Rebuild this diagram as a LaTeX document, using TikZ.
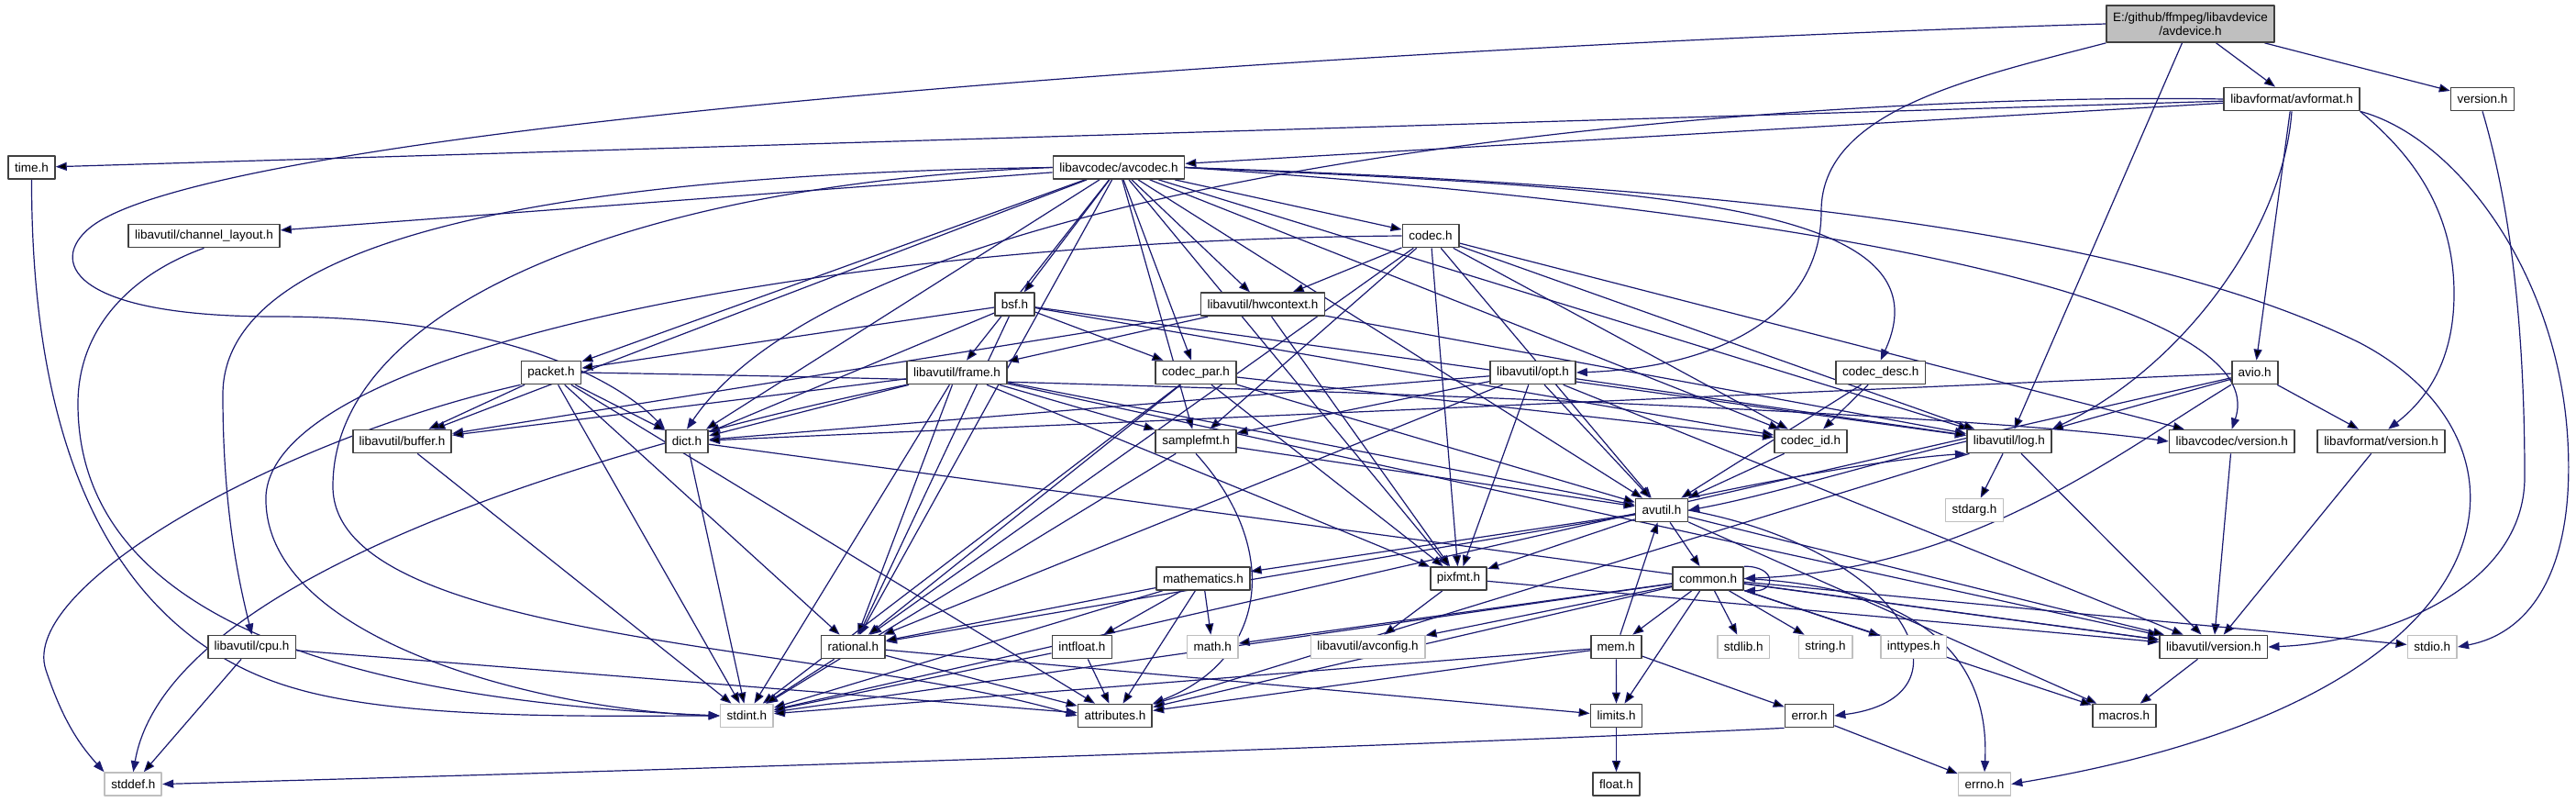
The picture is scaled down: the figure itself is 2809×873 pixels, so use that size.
\documentclass[tikz,border=0pt]{standalone}
\usepackage{fontspec}
\setmainfont{Liberation Sans}
\usetikzlibrary{arrows.meta,backgrounds}
\definecolor{depblue}{RGB}{25,25,112}
\definecolor{hdrframe}{RGB}{64,64,64}
\definecolor{sysframe}{RGB}{191,191,191}
\definecolor{mainfill}{RGB}{191,191,191}
\pgfdeclarelayer{deps}
\pgfsetlayers{background,deps,main}
\tikzset{
  every picture/.style={line join=round, >={Triangle[length=12pt,width=9pt]}},
  hdr/.style={draw=hdrframe, fill=white, line width=1.7pt, inner xsep=7pt, inner ysep=0pt,
    minimum height=25pt, font=\fontsize{13.5}{15}\selectfont},
  syshdr/.style={hdr, draw=sysframe},
  mainhdr/.style={hdr, fill=mainfill, align=center, minimum height=40pt},
  dep/.style={->, draw=depblue, line width=1.2pt},
}

\begin{document}
\begin{tikzpicture}[x=1pt,y=1pt]
\begin{pgfonlayer}{background}
\fill[white] (0,0) rectangle (2809,-873);
\end{pgfonlayer}
\useasboundingbox (0,0) rectangle (2809,-873);
% headers, row by row
\node[mainhdr] (avdevice) at (2388.5,-26) {E:/github/ffmpeg/libavdevice\\/avdevice.h};
\node[hdr] (avformat) at (2499,-108) {libavformat/avformat.h};
\node[hdr] (version) at (2707,-108) {version.h};
\node[hdr] (time) at (34.5,-182.5) {time.h};
\node[hdr] (avcodec) at (1220,-182.5) {libavcodec/avcodec.h};
\node[hdr] (chlayout) at (222.5,-257) {libavutil/channel\_layout.h};
\node[hdr] (codec) at (1560,-257) {codec.h};
\node[hdr] (bsf) at (1106.6,-331.7) {bsf.h};
\node[hdr] (hwctx) at (1377,-331.7) {libavutil/hwcontext.h};
\node[hdr] (packet) at (601,-406) {packet.h};
\node[hdr] (frame) at (1043.5,-406) {libavutil/frame.h};
\node[hdr] (codecpar) at (1304,-406) {codec\_par.h};
\node[hdr] (opt) at (1671.6,-406) {libavutil/opt.h};
\node[hdr] (codecdesc) at (2050.7,-406) {codec\_desc.h};
\node[hdr] (avio) at (2458.7,-406) {avio.h};
\node[hdr] (buffer) at (438.5,-481) {libavutil/buffer.h};
\node[hdr] (dict) at (749,-481) {dict.h};
\node[hdr] (samplefmt) at (1304,-481) {samplefmt.h};
\node[hdr] (codecid) at (1974.5,-481) {codec\_id.h};
\node[hdr] (log) at (2190.8,-481) {libavutil/log.h};
\node[hdr] (avcver) at (2433.7,-481) {libavcodec/version.h};
\node[hdr] (avfver) at (2596.5,-481) {libavformat/version.h};
\node[hdr] (avutil) at (1812,-556) {avutil.h};
\node[syshdr] (stdarg) at (2153,-556) {stdarg.h};
\node[hdr] (pixfmt) at (1590.6,-630.5) {pixfmt.h};
\node[hdr] (common) at (1862.6,-630.5) {common.h};
\node[hdr] (mathematics) at (1311.9,-630.5) {mathematics.h};
\node[hdr] (cpu) at (274.6,-705) {libavutil/cpu.h};
\node[hdr] (rational) at (930.3,-705) {rational.h};
\node[hdr] (intfloat) at (1179.9,-705) {intfloat.h};
\node[syshdr] (math) at (1322.2,-705) {math.h};
\node[syshdr] (avconfig) at (1491.6,-705) {libavutil/avconfig.h};
\node[hdr] (mem) at (1762.3,-705) {mem.h};
\node[syshdr] (stdlib) at (1901.2,-705) {stdlib.h};
\node[syshdr] (string) at (1990.5,-705) {string.h};
\node[syshdr] (inttypes) at (2086.7,-705) {inttypes.h};
\node[hdr] (avuver) at (2413.8,-705) {libavutil/version.h};
\node[syshdr] (stdio) at (2652.3,-705) {stdio.h};
\node[syshdr] (stdint) at (814.3,-780) {stdint.h};
\node[hdr] (attributes) at (1215.9,-780) {attributes.h};
\node[hdr] (limits) at (1762.5,-780) {limits.h};
\node[hdr] (error) at (1973,-780) {error.h};
\node[hdr] (macros) at (2316.4,-780) {macros.h};
\node[syshdr] (stddef) at (145.3,-854.5) {stddef.h};
\node[hdr] (float) at (1762.5,-854.5) {float.h};
\node[syshdr] (errno) at (2164,-854.5) {errno.h};

\begin{pgfonlayer}{deps}
% avdevice.h
\path[dep] (avdevice) edge (avformat) edge (version) edge (log);
\draw[dep] (avdevice.south west) .. controls (2150,-85) and (1986,-120) .. (1986,-230)
  .. controls (1986,-340) and (1880,-400) .. (opt.east);
\draw[dep] (avdevice.west) .. controls (1500,-50) and (300,-130) .. (110,-240)
  .. controls (50,-275) and (60,-345) .. (300,-345)
  .. controls (560,-345) and (680,-420) .. (dict.north west);
% avformat.h
\path[dep] (avformat) edge (time) edge (avcodec) edge (avio);
\draw[dep] (avformat.west) .. controls (2000,-100) and (950,-170) .. (dict.north);
\draw[dep] (avformat.south) .. controls (2490,-250) and (2380,-400) .. (log.north east);
\draw[dep] (avformat.south east) .. controls (2620,-160) and (2676,-220) .. (2676,-320)
  .. controls (2676,-400) and (2640,-440) .. (avfver.60);
\draw[dep] (avformat.south east) .. controls (2680,-150) and (2790,-300) .. (2800,-480)
  .. controls (2808,-620) and (2760,-690) .. (stdio.east);
\draw[dep] (version.south) .. controls (2745,-250) and (2753,-400) .. (2753,-520)
  .. controls (2753,-640) and (2600,-700) .. (avuver.east);
% left column
\draw[dep] (time.south) .. controls (34,-600) and (200,-715) .. (321,-750)
  .. controls (440,-785) and (650,-780) .. (stdint.west);
\draw[dep] (chlayout.south) .. controls (140,-300) and (85,-360) .. (85,-440)
  .. controls (85,-640) and (300,-760) .. (stdint.west);
\path[dep] (cpu) edge (stddef) edge (attributes);
% avcodec.h
\path[dep] (avcodec) edge (chlayout) edge (packet) edge (buffer) edge (dict) edge (frame)
  edge (rational) edge (bsf) edge (samplefmt) edge (codecpar) edge (pixfmt) edge (hwctx)
  edge (codec) edge (avutil) edge (codecid) edge (log);
\draw[dep] (avcodec.west) .. controls (700,-200) and (363,-330) .. (363,-530)
  .. controls (363,-700) and (900,-700) .. (attributes.west);
\draw[dep] (avcodec.west) .. controls (600,-190) and (243,-260) .. (243,-430)
  .. controls (243,-560) and (262,-640) .. (cpu.north);
\draw[dep] (avcodec.east) .. controls (1800,-205) and (2130,-220) .. (codecdesc.north);
\draw[dep] (avcodec.east) .. controls (2000,-230) and (2480,-330) .. (avcver.north);
\draw[dep] (avcodec.east) .. controls (1800,-200) and (2300,-240) .. (2572,-373)
  .. controls (2780,-480) and (2760,-760) .. (errno.east);
% codec.h
\path[dep] (codec) edge (hwctx) edge (codecid) edge (log) edge (avutil) edge (pixfmt)
  edge (rational) edge (samplefmt) edge (avcver);
\draw[dep] (codec.west) .. controls (900,-262) and (300,-380) .. (290,-540)
  .. controls (285,-700) and (600,-775) .. (stdint.west);
% bsf.h, hwcontext.h, packet.h
\path[dep] (bsf) edge (packet) edge (dict) edge (rational) edge (codecpar) edge (codecid) edge (log);
\path[dep] (hwctx) edge (buffer) edge (frame) edge (pixfmt) edge (log);
\path[dep] (packet) edge (stdint) edge (attributes) edge (buffer) edge (dict) edge (rational);
\draw[dep] (packet.east) .. controls (1200,-415) and (2100,-445) .. (avcver.west);
\draw[dep] (packet.south west) .. controls (300,-480) and (20,-640) .. (50,-730)
  .. controls (70,-790) and (90,-815) .. (stddef.north west);
% frame.h, codec_par.h, opt.h, codec_desc.h, avio.h
\path[dep] (frame) edge (stdint) edge (avutil) edge (buffer) edge (dict) edge (rational)
  edge (samplefmt) edge (pixfmt) edge (avuver);
\draw[dep] (frame.south west) .. controls (600,-500) and (180,-640) .. (stddef.north);
\path[dep] (codecpar) edge (stdint) edge (avutil) edge (rational) edge (pixfmt) edge (codecid);
\path[dep] (opt) edge (rational) edge (avutil) edge (dict) edge (log) edge (pixfmt)
  edge (samplefmt) edge (avuver);
\path[dep] (codecdesc) edge (codecid) edge (avutil);
\path[dep] (avio) edge (stdint) edge (dict) edge (log) edge (avfver);
\draw[dep] (avio.south west) .. controls (2300,-500) and (2150,-620) .. (common.east);
% row of buffer.h ... libavformat/version.h
\path[dep] (buffer) edge (stdint);
\path[dep] (dict) edge (stdint) edge (avuver);
\path[dep] (samplefmt) edge (avutil) edge (stdint);
\draw[dep] (samplefmt.south) .. controls (1400,-600) and (1380,-720) .. (attributes.north east);
\path[dep] (codecid) edge (avutil);
\path[dep] (log) edge (stdarg) edge (avuver) edge (attributes);
\draw[dep] (log.west) .. controls (2040,-505) and (1930,-540) .. (avutil.east);
\path[dep] (avcver) edge (avuver);
\path[dep] (avfver) edge (avuver);
% avutil.h
\path[dep] (avutil) edge (common) edge (rational) edge (avuver) edge (macros)
  edge (mathematics) edge (pixfmt);
\draw[dep] (avutil.north east) .. controls (1950,-520) and (2060,-500) .. (log.south west);
\draw[dep] (avutil.east) .. controls (2080,-600) and (2160,-760) .. (error.east);
\path[dep] (pixfmt) edge (avconfig) edge (avuver);
% common.h
\path[dep] (common) edge (mem) edge (limits) edge (stdlib) edge (string) edge (inttypes)
  edge (avconfig) edge (math) edge (stdint) edge (attributes) edge (macros) edge (avuver)
  edge (stdio);
\draw[dep] (common.east) .. controls (2100,-640) and (2170,-720) .. (errno.north);
\draw[dep] (common.north east) .. controls +(35,0) and +(35,0) .. (common.south east);
% lower rows
\path[dep] (mathematics) edge (stdint) edge (math) edge (attributes) edge (rational) edge (intfloat);
\path[dep] (rational) edge (stdint) edge (limits) edge (attributes);
\path[dep] (intfloat) edge (stdint) edge (attributes);
\path[dep] (mem) edge (limits) edge (error) edge (avutil) edge (stdint) edge (attributes);
\path[dep] (avuver) edge (macros);
\path[dep] (limits) edge (float);
\path[dep] (error) edge (errno);
\draw[dep] (error.south west) .. controls (1500,-815) and (700,-840) .. (stddef.east);
\end{pgfonlayer}
\end{tikzpicture}
\end{document}
